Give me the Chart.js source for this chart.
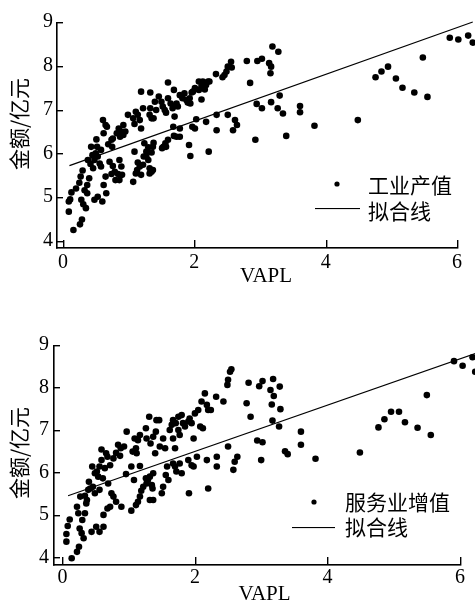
<!DOCTYPE html>
<html>
<head>
<meta charset="utf-8">
<script src="https://cdn.jsdelivr.net/npm/chart.js@4.4.1/dist/chart.umd.min.js"></script>
<style>
  html, body { margin: 0; padding: 0; background: #fff; overflow: hidden; }
  .panel { position: absolute; left: 0; width: 475px; }
  #panel1 { top: 0; height: 300px; }
  #panel2 { top: 300px; height: 310px; }
</style>
</head>
<body>
<div class="panel" id="panel1"><canvas id="chart1" width="475" height="300"></canvas></div>
<div class="panel" id="panel2"><canvas id="chart2" width="475" height="310"></canvas></div>
<script>
// tick values shared by both panels
const xTicks = [0, 2, 4, 6];
const yTicks = [4, 5, 6, 7, 8, 9];

// upper panel: industrial output vs VAPL
const industryX = [
  0.09,0.09,0.11,0.13,0.16,0.26,0.29,0.20,0.25,0.27,
  0.30,0.28,0.31,0.35,0.37,0.33,0.37,0.40,0.38,0.42,
  0.45,0.43,0.46,0.48,0.50,0.52,0.51,0.53,0.56,0.48,
  0.53,0.60,0.62,0.66,0.65,0.58,0.61,0.65,0.67,0.62,
  0.58,0.69,0.74,0.76,0.75,0.71,0.76,0.79,0.80,0.74,
  0.84,0.86,0.82,0.85,0.89,0.87,0.92,0.95,0.99,0.92,
  0.90,0.86,0.89,1.07,1.11,1.09,1.13,1.17,1.14,1.19,
  1.22,1.07,1.11,1.14,1.09,1.17,1.19,1.22,1.19,1.24,
  1.27,1.23,1.27,1.30,1.32,1.32,1.35,1.37,1.30,1.35,
  1.37,1.38,1.32,1.35,1.33,1.33,1.40,1.38,1.42,1.46,
  1.50,1.52,1.51,1.53,1.56,1.57,1.55,1.60,1.60,1.64,
  1.67,1.69,1.70,1.69,1.73,1.75,1.78,1.68,1.69,1.73,
  1.78,1.78,1.57,1.60,1.82,1.85,1.88,1.90,1.94,1.96,
  1.93,1.98,2.01,1.97,2.01,1.92,1.94,2.03,2.07,2.07,
  2.11,2.13,2.16,2.18,2.21,2.11,2.18,2.22,2.23,2.34,
  2.34,2.33,2.43,2.46,2.49,2.51,2.56,2.51,2.59,2.62,
  2.65,
  2.57,2.80,2.96,3.03,3.14,3.17,3.16,3.19,3.28,2.85,
  2.95,3.03,3.17,3.27,3.30,3.35,2.93,3.40,3.61,3.61,
  3.83,4.49,4.76,4.85,4.95,5.07,5.17,5.35,5.48,5.55,
  5.89,6.02,6.17,6.24
];
const industryY = [
  4.90,4.67,4.95,5.11,4.25,4.38,4.49,5.20,5.33,5.47,
  5.61,4.94,4.84,4.75,5.09,5.16,5.28,5.43,5.85,5.76,
  5.96,6.15,5.66,5.85,6.00,6.15,6.32,5.93,5.77,4.94,
  5.01,4.90,5.28,5.09,5.47,5.70,6.76,6.65,6.61,6.46,
  6.08,6.21,6.31,6.34,6.15,5.81,5.71,5.58,5.39,5.53,
  5.53,5.85,6.46,6.57,6.50,6.38,6.65,6.50,6.88,6.42,
  5.51,5.39,5.70,5.35,5.54,6.04,5.62,5.70,5.79,5.51,
  5.74,6.80,6.95,6.88,6.67,6.76,7.41,7.03,6.57,6.23,
  6.04,5.93,5.93,6.14,5.66,5.54,5.58,5.62,5.85,6.02,
  6.15,6.24,6.88,6.80,7.03,7.39,7.18,6.80,6.99,7.30,
  7.18,7.07,6.12,6.15,6.23,6.93,6.99,7.26,7.62,7.14,
  7.03,7.45,6.84,7.08,7.14,7.07,7.33,6.61,6.40,6.38,
  6.38,6.57,6.15,6.31,7.26,7.37,7.22,7.16,7.14,7.39,
  7.26,7.41,7.49,6.61,6.57,6.19,5.94,6.78,7.64,7.45,
  7.54,7.64,7.46,7.56,7.64,7.23,6.72,6.04,7.64,6.53,
  6.88,7.81,7.74,7.79,7.87,7.98,8.09,6.88,6.53,6.76,
  6.65,
  7.96,8.11,8.11,8.16,8.06,7.98,7.83,8.44,8.32,7.61,
  7.13,7.03,7.17,7.03,7.32,6.91,6.31,6.40,7.08,6.94,
  6.63,6.76,7.74,7.87,7.98,7.71,7.50,7.39,8.19,7.29,
  8.64,8.60,8.69,8.53
];
const industryFitX = [0.1, 6.24];
const industryFitY = [5.72, 9.0];

// lower panel: service value added vs VAPL
const serviceX = [
  0.06,0.06,0.08,0.11,0.14,0.22,0.25,0.22,0.24,0.26,
  0.29,0.32,0.30,0.34,0.27,0.34,0.36,0.37,0.40,0.42,
  0.39,0.46,0.45,0.49,0.52,0.56,0.54,0.49,0.56,0.44,
  0.51,0.56,0.62,0.62,0.68,0.72,0.59,0.59,0.66,0.68,
  0.64,0.61,0.69,0.74,0.77,0.81,0.72,0.77,0.81,0.84,
  0.87,0.88,0.93,0.97,0.96,0.89,1.04,1.11,1.08,1.04,
  1.06,1.12,1.09,1.14,1.17,1.11,1.17,1.19,1.14,1.17,
  1.22,1.26,1.27,1.29,1.32,1.35,1.37,1.36,1.32,1.37,
  1.27,1.26,1.31,1.33,1.37,1.41,1.42,1.40,1.46,1.47,
  1.52,1.55,1.50,1.52,1.56,1.58,1.60,1.62,1.65,1.67,
  1.70,1.67,1.71,1.75,1.77,1.75,1.80,1.67,1.70,1.72,
  1.77,1.80,1.82,1.85,1.90,1.92,1.95,1.91,1.90,1.95,
  1.98,2.03,2.00,2.05,2.08,1.98,2.12,2.15,2.10,2.18,
  2.20,2.24,2.18,2.20,2.32,2.33,2.33,2.43,2.49,2.50,
  2.53,2.55,2.50,2.58,2.60,2.64,
  2.81,2.97,3.02,3.18,3.14,3.19,3.28,2.78,2.84,3.16,
  3.29,3.17,3.27,2.94,3.02,3.00,3.36,3.40,3.60,3.60,
  3.82,4.49,4.77,4.86,4.96,5.08,5.17,5.36,5.50,5.56,
  5.91,6.04,6.19,6.23
];
const serviceY = [
  4.37,4.55,4.74,4.89,3.98,4.13,4.25,5.19,5.04,4.68,
  4.57,4.45,4.88,5.04,5.43,5.45,5.27,5.35,5.78,5.62,
  5.59,5.66,6.14,5.98,6.02,6.14,5.90,5.51,5.59,4.60,
  4.72,4.60,4.72,5.00,5.15,5.19,6.54,6.29,6.45,6.37,
  6.10,5.86,5.74,5.51,5.43,5.31,6.17,6.33,6.46,6.65,
  6.39,6.57,6.61,6.96,5.96,5.19,5.10,5.23,5.82,6.14,
  6.49,6.45,6.80,6.76,6.88,6.57,6.15,5.57,5.31,5.43,
  5.66,5.86,5.74,5.82,5.90,5.70,5.98,5.62,5.35,5.35,
  6.80,7.04,7.31,6.68,6.84,6.96,7.23,6.45,7.23,6.61,
  6.80,6.57,5.51,5.66,5.94,6.14,5.82,7.00,7.12,6.80,
  6.57,7.23,7.16,7.00,6.88,7.31,7.35,6.21,6.14,6.02,
  6.21,5.98,7.16,7.08,7.20,7.27,7.16,5.51,6.29,6.17,
  6.14,6.37,7.39,7.47,7.08,6.80,7.04,7.86,7.67,7.59,
  7.47,7.47,6.29,5.62,7.78,6.37,6.14,7.67,8.06,8.18,
  8.37,8.43,6.61,6.06,6.25,6.37,
  8.11,8.03,8.15,8.20,7.94,7.80,8.02,7.63,7.31,7.60,
  7.49,7.22,7.08,6.75,6.71,6.29,6.50,6.43,6.96,6.65,
  6.32,6.47,7.06,7.25,7.43,7.43,7.18,7.05,7.82,6.88,
  8.62,8.51,8.71,8.37
];
const serviceFitX = [0.085, 6.23];
const serviceFitY = [5.45, 8.8];

const serif = "'Liberation Serif', 'Noto Sans CJK SC', serif";
const cjk = "'Noto Sans CJK SC', 'Liberation Serif', sans-serif";

function makeChart(id, xs, ys, fitX, fitY, pointLabel, g) {
  const points = xs.map((x, i) => ({ x: x, y: ys[i] }));
  const fit = fitX.map((x, i) => ({ x: x, y: fitY[i] }));

  // axis lines that stop at x = 6, with inward ticks
  const axes = {
    id: "axes",
    afterDraw(chart) {
      const ctx = chart.ctx;
      const sx = chart.scales.x;
      const sy = chart.scales.y;
      const left = Math.round(chart.chartArea.left) - 1;
      const bottom = Math.round(chart.chartArea.bottom) - 1;
      const top = Math.round(sy.getPixelForValue(9));
      const right = Math.round(sx.getPixelForValue(6));
      ctx.save();
      ctx.fillStyle = "#000";
      ctx.fillRect(left, top, 1.6, bottom - top + 1.6);
      ctx.fillRect(left, bottom, right - left + 1.4, 1.6);
      yTicks.forEach((v) => {
        const ty = Math.round(sy.getPixelForValue(v));
        ctx.fillRect(left, ty, 7, 1.4);
      });
      xTicks.forEach((v) => {
        const tx = Math.round(sx.getPixelForValue(v));
        ctx.fillRect(tx, bottom - 7, 1.4, 7);
      });
      ctx.restore();
    }
  };

  // y title and the legend box
  const labels = {
    id: "labels",
    afterDraw(chart) {
      const ctx = chart.ctx;
      ctx.save();
      ctx.fillStyle = "#000";
      ctx.textBaseline = "middle";
      ctx.textAlign = "left";
      ctx.font = "21px " + cjk;
      ctx.beginPath();
      ctx.arc(g.dotX, g.dotY, 2.6, 0, Math.PI * 2);
      ctx.fill();
      ctx.fillText(pointLabel, g.textX, g.text1Y);
      ctx.fillRect(g.lineX1, g.lineY, g.lineX2 - g.lineX1, 1.1);
      ctx.fillText("拟合线", g.textX, g.text2Y);
      ctx.translate(g.titleX, g.titleY);
      ctx.rotate(-Math.PI / 2);
      ctx.textAlign = "center";
      ctx.fillText("金额/亿元", 0, 0);
      ctx.restore();
    }
  };

  return new Chart(document.getElementById(id), {
    type: "scatter",
    data: {
      datasets: [
        {
          label: pointLabel,
          data: points,
          backgroundColor: "#000",
          borderWidth: 0,
          pointRadius: 3.3,
          clip: false
        },
        {
          label: "拟合线",
          data: fit,
          showLine: true,
          borderColor: "#000",
          borderWidth: 1.2,
          pointRadius: 0,
          clip: false
        }
      ]
    },
    options: {
      responsive: false,
      animation: false,
      layout: { autoPadding: false, padding: { left: 0, right: 0, top: g.padTop, bottom: 0 } },
      plugins: { legend: { display: false }, tooltip: { enabled: false } },
      scales: {
        x: {
          min: g.xMin,
          max: g.xMax,
          grid: { display: false, drawTicks: false },
          border: { display: false },
          afterBuildTicks: (s) => { s.ticks = xTicks.map((v) => ({ value: v })); },
          afterFit: (s) => { s.height = g.xHeight; s.paddingLeft = 0; s.paddingRight = 0; },
          ticks: { color: "#000", font: { family: serif, size: 20 }, padding: g.xPad, maxRotation: 0 },
          title: {
            display: true,
            text: "VAPL",
            color: "#000",
            font: { family: serif, size: 21 },
            padding: { top: 0, bottom: g.titlePad }
          }
        },
        y: {
          min: g.yMin,
          max: 9,
          grid: { display: false, drawTicks: false },
          border: { display: false },
          afterBuildTicks: (s) => { s.ticks = yTicks.map((v) => ({ value: v })); },
          afterFit: (s) => { s.width = g.yWidth; },
          ticks: { color: "#000", font: { family: serif, size: 20 }, padding: g.yPad }
        }
      }
    },
    plugins: [axes, labels]
  });
}

makeChart("chart1", industryX, industryY, industryFitX, industryFitY, "工业产值", {
  padTop: 22, yWidth: 57, xHeight: 52, xMin: -0.09, xMax: 6.274, yMin: 3.84,
  xPad: 3, yPad: 4, titlePad: 11, titleX: 19, titleY: 124,
  dotX: 337, dotY: 184, textX: 368, text1Y: 185,
  lineX1: 315, lineX2: 360, lineY: 208, text2Y: 211
});

makeChart("chart2", serviceX, serviceY, serviceFitX, serviceFitY, "服务业增值", {
  padTop: 45, yWidth: 54, xHeight: 45, xMin: -0.127, xMax: 6.227, yMin: 3.82,
  xPad: 1, yPad: 5, titlePad: 3, titleX: 19, titleY: 153,
  dotX: 314, dotY: 202, textX: 345, text1Y: 202,
  lineX1: 292, lineX2: 335, lineY: 227, text2Y: 227.5
});
</script>
</body>
</html>
